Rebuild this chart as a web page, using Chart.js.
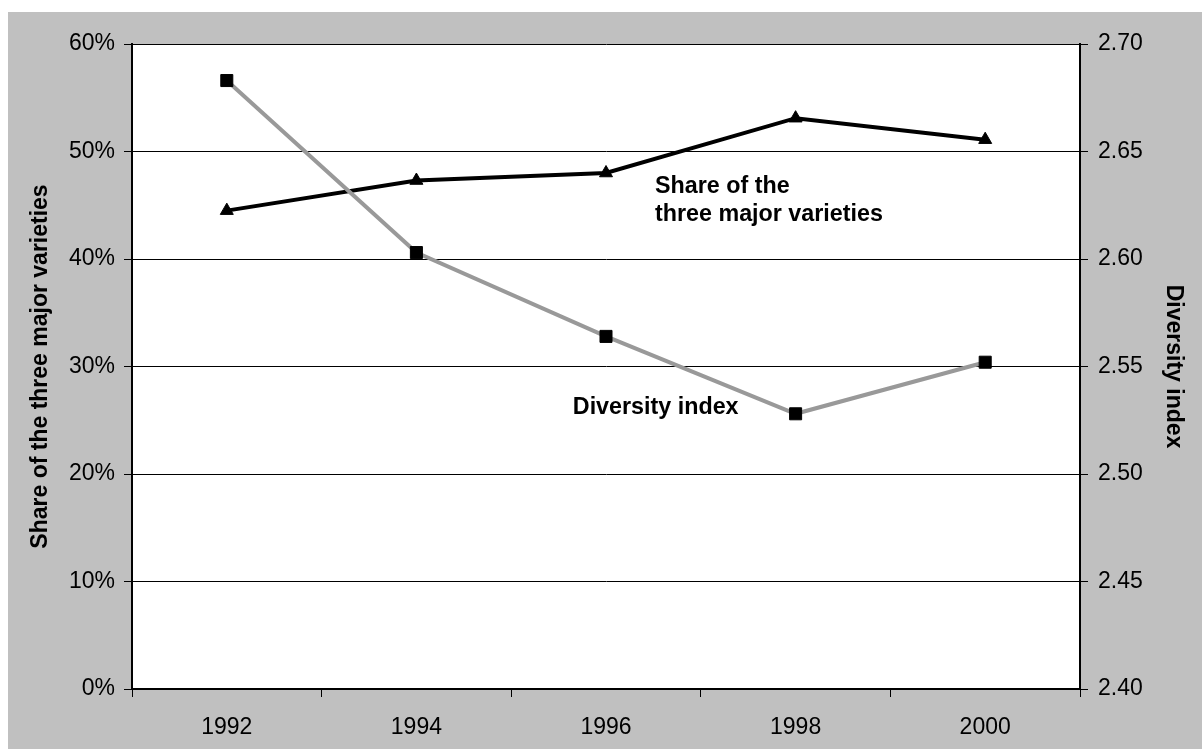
<!DOCTYPE html>
<html>
<head>
<meta charset="utf-8">
<script src="https://cdn.jsdelivr.net/npm/chart.js@4/dist/chart.umd.min.js"></script>
<style>
  html, body { margin: 0; padding: 0; background: #ffffff; }
  #wrap { width: 1202px; height: 749px; }
</style>
</head>
<body>
<div id="wrap"><canvas id="chart" width="1202" height="749"></canvas></div>
<script>
// Survey years
const years = ['1992', '1994', '1996', '1998', '2000'];
// Share of the three major varieties (%)
const shareMajor = [44.5, 47.3, 48.0, 53.1, 51.1];
// Diversity index
const diversityIndex = [2.683, 2.603, 2.564, 2.528, 2.552];

// Axis ranges
const shareRange = { min: 0, max: 60, step: 10 };
const diversityRange = { min: 2.40, max: 2.70, step: 0.05 };

const FONT = "Arial, 'Liberation Sans', Helvetica, sans-serif";

// Gray frame with a white plotting area
const backgroundPlugin = {
  id: 'frameBackground',
  beforeDraw(chart) {
    const { ctx, chartArea: a } = chart;
    ctx.save();
    ctx.fillStyle = '#ffffff';
    ctx.fillRect(0, 0, chart.width, chart.height);
    ctx.fillStyle = '#c0c0c0';
    ctx.fillRect(8, 12, chart.width - 8, chart.height - 12);
    ctx.fillStyle = '#ffffff';
    ctx.fillRect(a.left, a.top, a.right - a.left, a.bottom - a.top);
    ctx.restore();
  }
};

// Series labels placed inside the plotting area
const seriesLabels = [
  { lines: ['Share of the', 'three major varieties'], fx: 0.5517, fy: 0.2215 },
  { lines: ['Diversity index'], fx: 0.465, fy: 0.5635 }
];
const labelPlugin = {
  id: 'seriesLabels',
  afterDatasetsDraw(chart) {
    const { ctx, chartArea: a } = chart;
    ctx.save();
    ctx.fillStyle = '#000000';
    ctx.font = 'bold 23.3px ' + FONT;
    ctx.textAlign = 'left';
    ctx.textBaseline = 'middle';
    const lh = 28;
    seriesLabels.forEach(l => {
      const x = a.left + l.fx * (a.right - a.left);
      const y = a.top + l.fy * (a.bottom - a.top);
      l.lines.forEach((t, i) => ctx.fillText(t, x, y + i * lh));
    });
    ctx.restore();
  }
};

new Chart(document.getElementById('chart'), {
  type: 'line',
  data: {
    labels: years,
    datasets: [
      {
        label: 'Share of the three major varieties',
        data: shareMajor,
        yAxisID: 'y',
        borderColor: '#000000',
        borderWidth: 4,
        pointStyle: 'triangle',
        pointRadius: 7.5,
        pointBackgroundColor: '#000000',
        pointBorderColor: '#000000',
        pointBorderWidth: 1,
        tension: 0,
        order: 2
      },
      {
        label: 'Diversity index',
        data: diversityIndex,
        yAxisID: 'y1',
        borderColor: '#999999',
        borderWidth: 4,
        pointStyle: 'rect',
        pointRadius: 8.5,
        pointBackgroundColor: '#000000',
        pointBorderColor: '#000000',
        pointBorderWidth: 1,
        tension: 0,
        order: 1
      }
    ]
  },
  options: {
    responsive: false,
    animation: false,
    devicePixelRatio: 1,
    layout: { padding: { top: 44, left: 0, right: 0, bottom: 0 } },
    plugins: {
      legend: { display: false },
      tooltip: { enabled: false }
    },
    scales: {
      x: {
        type: 'category',
        offset: true,
        grid: {
          offset: true,
          drawOnChartArea: false,
          drawTicks: true,
          tickLength: 8,
          color: '#000000',
          lineWidth: 1
        },
        border: { display: true, color: '#000000', width: 2 },
        ticks: {
          color: '#000000',
          font: { family: FONT, size: 23 },
          padding: 17,
          maxRotation: 0
        },
        afterFit(scale) { scale.height = 60; }
      },
      y: {
        position: 'left',
        min: shareRange.min,
        max: shareRange.max,
        grid: {
          color: '#000000',
          lineWidth: 1,
          drawTicks: true,
          tickLength: 8
        },
        border: { display: true, color: '#000000', width: 2 },
        ticks: {
          stepSize: shareRange.step,
          color: '#000000',
          font: { family: FONT, size: 23 },
          padding: 9,
          callback: v => v + '%'
        },
        title: {
          display: true,
          text: 'Share of the three major varieties',
          color: '#000000',
          font: { family: FONT, size: 23, weight: 'bold' },
          padding: { top: 27, bottom: 0 }
        },
        afterFit(scale) { scale.width = 132; }
      },
      y1: {
        position: 'right',
        min: diversityRange.min,
        max: diversityRange.max,
        grid: {
          drawOnChartArea: false,
          color: '#000000',
          lineWidth: 1,
          drawTicks: true,
          tickLength: 8
        },
        border: { display: true, color: '#000000', width: 2 },
        ticks: {
          stepSize: diversityRange.step,
          color: '#000000',
          font: { family: FONT, size: 23 },
          padding: 10,
          callback: v => v.toFixed(2)
        },
        title: {
          display: true,
          text: 'Diversity index',
          color: '#000000',
          font: { family: FONT, size: 23, weight: 'bold' },
          padding: { top: 15, bottom: 0 }
        },
        afterFit(scale) { scale.width = 122; }
      }
    }
  },
  plugins: [backgroundPlugin, labelPlugin]
});
</script>
</body>
</html>
